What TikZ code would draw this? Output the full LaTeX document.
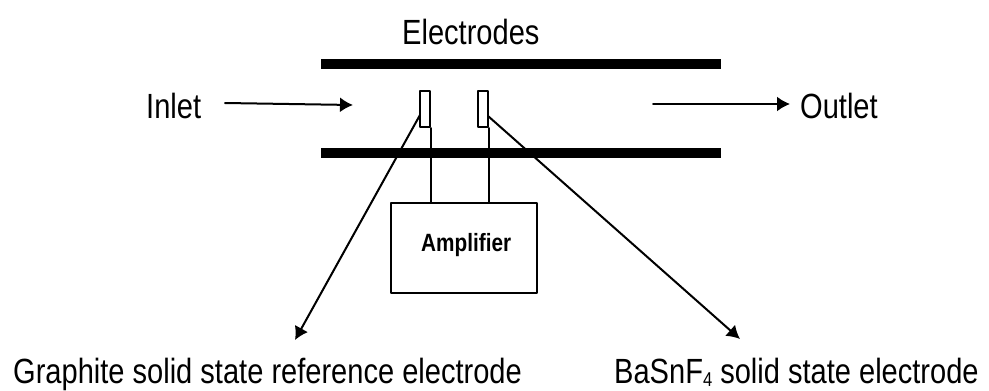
\documentclass[tikz,border=0pt]{standalone}
\usepackage{fontspec}
\setmainfont[FakeStretch=0.83]{Liberation Sans}
\usetikzlibrary{arrows.meta}
\begin{document}
\begin{tikzpicture}[x=1pt, y=-1pt, line cap=round, line join=round]
    \tikzset{
      label/.style={font=\fontsize{35}{35}\selectfont, inner sep=0pt, anchor=base west},
      plate/.style={line width=10pt, line cap=butt},
      wire/.style={line width=2pt},
      sensor/.style={draw, wire, minimum width=10pt, minimum height=36pt, inner sep=0pt},
      tip/.style={-{Latex[length=13pt,width=15pt]}, line width=2pt}
    }
    \useasboundingbox (0,0) rectangle (989,391);
    \node[label] (electrodes) at (402,44) {Electrodes};
    \node[label] (inlet) at (146,118) {Inlet};
    \node[label] (outlet) at (800,118) {Outlet};
    \node[label] (graphite) at (13,383) {Graphite solid state reference electrode};
    \node[label] (basnf) at (614,383) {BaSnF\raisebox{-3pt}{\fontsize{20}{20}\selectfont 4} solid state electrode};
    \coordinate (topl) at (321,64); \coordinate (topr) at (721,64);
    \coordinate (botl) at (321,152.5); \coordinate (botr) at (721,152.5);
    \draw[plate] (topl) -- (topr);
    \draw[plate] (botl) -- (botr);
    \node[sensor] (refel) at (425,109) {};
    \node[sensor] (baseel) at (483,109) {};
    \node[draw, wire, minimum width=146pt, minimum height=90pt, inner sep=0pt] (amp) at (464,248) {};
    \node[label, font=\bfseries\fontsize{25}{25}\selectfont] (amplabel) at (421,251) {Amplifier};
    \coordinate (instart) at (225,103); \coordinate (inend) at (353,105);
    \coordinate (outstart) at (653,104); \coordinate (outend) at (790,104);
    \coordinate (refstart) at (420,115); \coordinate (reftip) at (295,340);
    \coordinate (basestart) at (488,116); \coordinate (basetip) at (740,339);
    \draw[tip] (instart) -- (inend);
    \draw[tip] (outstart) -- (outend);
    \draw[wire] (refel.south east) -- (refel.south east |- amp.north);
    \draw[wire] (baseel.south east) -- (baseel.south east |- amp.north);
    \draw[tip] (refstart) -- (reftip);
    \draw[tip] (basestart) -- (basetip);
\end{tikzpicture}
\end{document}
